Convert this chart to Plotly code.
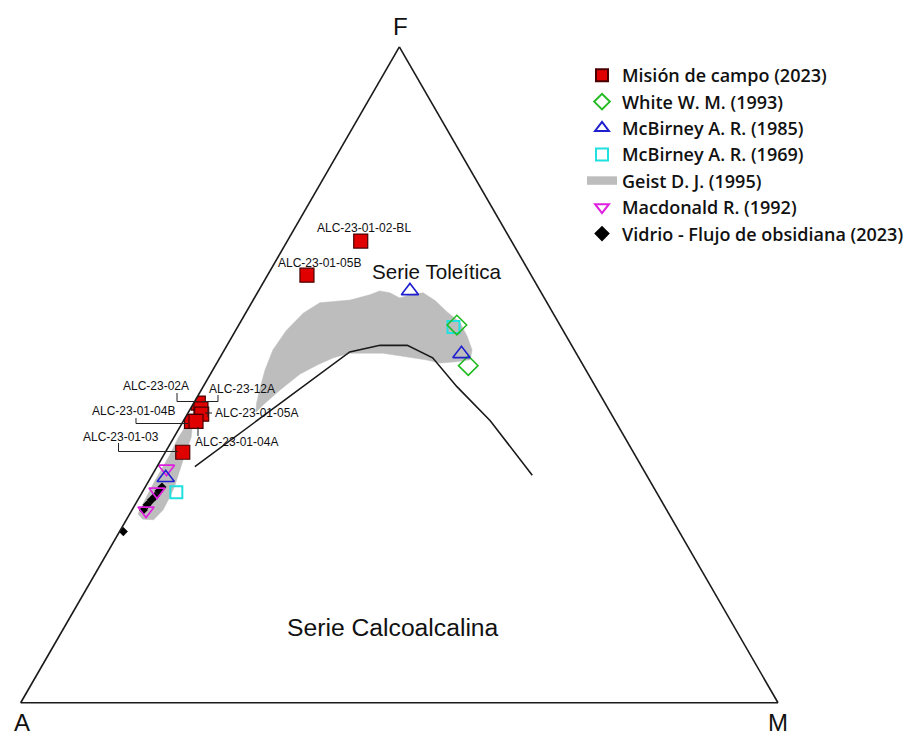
import plotly.graph_objects as go

W, H = 920, 738
OFF = 8  # page body margin of the written html

# ---------------- data (F, A, M in %) ----------------
mision_names = ["ALC-23-01-02-BL", "ALC-23-01-05B", "ALC-23-02A", "ALC-23-12A",
                "ALC-23-01-05A", "ALC-23-01-04B", "ALC-23-01-04A", "ALC-23-01-03"]
mision_F = [70.4, 65.2, 45.7, 44.8, 44.0, 42.9, 42.9, 38.2]
mision_A = [19.9, 29.6, 53.7, 53.8, 54.1, 56.0, 55.4, 59.5]
mision_M = [9.7, 5.2, 0.6, 1.4, 1.9, 1.1, 1.7, 2.3]

white_F = [57.6, 51.4]
white_A = [13.6, 15.2]
white_M = [28.8, 33.4]

mcb85_F = [62.8, 53.2, 34.3]
mcb85_A = [17.2, 15.2, 63.7]
mcb85_M = [20.0, 31.6, 2.0]

mcb69_F = [57.3, 32.1]
mcb69_A = [14.2, 63.4]
mcb69_M = [28.5, 4.5]

macd_F = [35.7, 32.2, 29.3]
macd_A = [62.9, 65.9, 68.8]
macd_M = [1.4, 1.9, 1.9]

vidrio_F = [26.1, 29.4, 30.2, 30.9, 31.5, 32.3, 32.9]
vidrio_A = [73.4, 69.1, 68.2, 67.3, 66.5, 65.6, 64.9]
vidrio_M = [0.5, 1.5, 1.6, 1.8, 2.0, 2.1, 2.2]

# Geist D. J. (1995) field: main body, then the narrow tail (None = gap)
geist_F = [44.3, 45.7, 47.7, 50.7, 53.8, 56.8, 59.4, 61.0, 61.4, 62.2, 62.8, 62.5, 61.7,
           62.3, 62.5, 61.3, 59.6, 58.0, 55.9, 53.8, 52.3, 52.0, 51.8, 52.3, 52.9, 53.3,
           53.3, 52.6, 51.5, 50.1, 47.7, 45.4, 44.3, None,
           28.0, 27.9, 29.4, 31.4, 33.1, 35.8, 38.2, 40.4, 41.9, 42.2, 40.4, 37.8, 35.5,
           33.7, 31.7, 29.9, 28.8, 28.0]
geist_A = [46.8, 46.0, 44.6, 42.4, 39.8, 36.5, 33.0, 30.0, 25.8, 22.8, 21.2, 20.0, 19.1,
           17.2, 15.6, 14.6, 13.9, 13.0, 13.1, 13.5, 14.5, 16.5, 18.7, 20.4, 23.5, 25.5,
           29.9, 32.4, 35.1, 38.1, 41.9, 45.3, 46.8, None,
           69.9, 68.5, 66.5, 64.6, 63.1, 61.0, 59.1, 57.3, 56.4, 57.1, 59.0, 61.4, 63.7,
           65.5, 67.4, 69.1, 70.1, 69.9]
geist_M = [8.9, 8.3, 7.7, 6.9, 6.4, 6.7, 7.6, 9.0, 12.8, 15.0, 16.0, 17.5, 19.2,
           20.5, 21.9, 24.1, 26.5, 29.0, 31.0, 32.7, 33.2, 31.5, 29.5, 27.3, 23.6, 21.2,
           16.8, 15.0, 13.4, 11.8, 10.4, 9.3, 8.9, None,
           2.1, 3.6, 4.1, 4.0, 3.8, 3.2, 2.7, 2.3, 1.7, 0.7, 0.6, 0.8, 0.8,
           0.8, 0.9, 1.0, 1.1, 2.1]

# Tholeiitic / calc-alkaline dividing line
div_F = [36.0, 53.5, 54.5, 54.5, 52.6, 48.2, 43.0, 34.7]
div_A = [59.0, 29.8, 25.3, 21.7, 19.3, 18.3, 16.5, 15.1]
div_M = [5.0, 16.7, 20.2, 23.8, 28.1, 33.5, 40.5, 50.2]

# ---------------- figure ----------------
fig = go.Figure()

fig.add_trace(go.Scatterternary(
    a=geist_F, b=geist_A, c=geist_M, mode="lines", fill="toself",
    fillcolor="#bdbdbd", line=dict(color="#bdbdbd", width=0.5),
    name="Geist D. J. (1995)", legendrank=5, hoverinfo="skip"))

fig.add_trace(go.Scatterternary(
    a=div_F, b=div_A, c=div_M, mode="lines",
    line=dict(color="#1a1a1a", width=1.6), showlegend=False, hoverinfo="skip"))

fig.add_trace(go.Scatterternary(
    a=vidrio_F, b=vidrio_A, c=vidrio_M, mode="markers",
    marker=dict(symbol="diamond", size=7, color="black"),
    name="Vidrio - Flujo de obsidiana (2023)", legendrank=7))

fig.add_trace(go.Scatterternary(
    a=macd_F, b=macd_A, c=macd_M, mode="markers",
    marker=dict(symbol="triangle-down-open", size=14, color="#e020e0", line=dict(width=1.6)),
    name="Macdonald R. (1992)", legendrank=6))

fig.add_trace(go.Scatterternary(
    a=mcb69_F, b=mcb69_A, c=mcb69_M, mode="markers",
    marker=dict(symbol="square-open", size=12, color="#20e0e0", line=dict(width=2)),
    name="McBirney A. R. (1969)", legendrank=4))

fig.add_trace(go.Scatterternary(
    a=white_F, b=white_A, c=white_M, mode="markers",
    marker=dict(symbol="diamond-open", size=15, color="#22bb22", line=dict(width=1.6)),
    name="White W. M. (1993)", legendrank=2))

fig.add_trace(go.Scatterternary(
    a=mcb85_F, b=mcb85_A, c=mcb85_M, mode="markers",
    marker=dict(symbol="triangle-up-open", size=15, color="#1f1fd0", line=dict(width=1.6)),
    name="McBirney A. R. (1985)", legendrank=3))

fig.add_trace(go.Scatterternary(
    a=mision_F, b=mision_A, c=mision_M, mode="markers", text=mision_names,
    marker=dict(symbol="square", size=14, color="#e00000",
                line=dict(color="#4a0000", width=1.2)),
    name="Misión de campo (2023)", legendrank=1))

ax = dict(showticklabels=False, ticks="", showgrid=False, showline=True,
          linecolor="#1a1a1a", linewidth=1.6, title=dict(text=""), min=0)


def P(x, y):
    """page pixel -> paper fraction (page has an 8px body margin)"""
    return (x - OFF) / W, 1 - (y - OFF) / H


tx0, ty_top = P(20.7, 46.7)
tx1, ty_bot = P(778, 703)

fig.update_layout(
    width=W, height=H, margin=dict(l=0, r=0, t=0, b=0),
    paper_bgcolor="white", plot_bgcolor="white",
    font=dict(family="Liberation Sans, Arial", color="#111"),
    ternary=dict(domain=dict(x=[tx0, tx1], y=[ty_bot, ty_top]),
                 sum=100, bgcolor="white", aaxis=ax, baxis=ax, caxis=ax),
    legend=dict(x=P(582, 0)[0], y=P(0, 57)[1], xanchor="left", yanchor="top",
                font=dict(family="Open Sans", size=18, weight=600, color="#111"),
                bgcolor="rgba(0,0,0,0)", itemsizing="constant"),
)


def text(x, y, s, size=12, anchor="center", family="Liberation Sans, Arial"):
    px, py = P(x, y)
    fig.add_annotation(x=px, y=py, xref="paper", yref="paper", text=s, showarrow=False,
                       xanchor=anchor, yanchor="middle",
                       font=dict(size=size, family=family, color="#111"))


# vertex letters and field names
text(400, 26, "F", size=24)
text(22, 722, "A", size=24)
text(778, 722, "M", size=24)
text(437, 271, "Serie Toleítica", size=20.6)
text(393, 627, "Serie Calcoalcalina", size=24.7)

# sample labels
text(364, 228, "ALC-23-01-02-BL")
text(319, 263, "ALC-23-01-05B")
text(156, 386, "ALC-23-02A")
text(242, 389, "ALC-23-12A")
text(213, 413, "ALC-23-01-05A", anchor="left")
text(177, 411, "ALC-23-01-04B", anchor="right")
text(193, 442, "ALC-23-01-04A", anchor="left")
text(161, 437, "ALC-23-01-03", anchor="right")

leaders = [
    [(177, 393), (177, 401.5), (197, 401.5)],
    [(218, 395), (218, 401.5), (202, 401.5)],
    [(208, 407), (208, 417)],
    [(205, 413), (212, 413)],
    [(136, 418), (136, 423.5), (188, 423.5)],
    [(198, 427), (198, 436)],
    [(118.5, 443), (118.5, 451.5), (178, 451.5)],
]
for pts in leaders:
    path = ""
    for i, (x, y) in enumerate(pts):
        px, py = P(x, y)
        path += ("M" if i == 0 else "L") + f"{px:.5f},{py:.5f} "
    fig.add_shape(type="path", path=path.strip(), xref="paper", yref="paper",
                  line=dict(color="#222", width=1))

fig.write_html("out.html")
